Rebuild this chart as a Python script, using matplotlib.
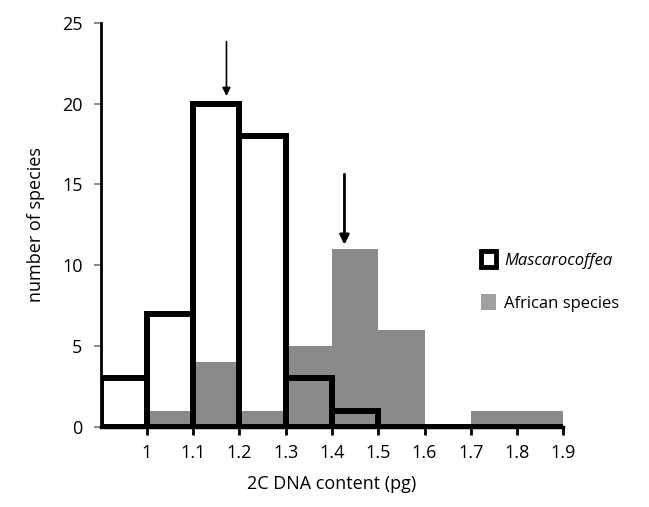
import matplotlib.pyplot as plt
from matplotlib.patches import Patch

# bins of 0.1 pg, left edges
bin_left = [0.9, 1.0, 1.1, 1.2, 1.3, 1.4, 1.5, 1.6, 1.7, 1.8]
mascarocoffea = [3, 7, 20, 18, 3, 1, 0, 0, 0, 0]
african = [0, 1, 4, 1, 5, 11, 6, 0, 1, 1]
xticks = [1, 1.1, 1.2, 1.3, 1.4, 1.5, 1.6, 1.7, 1.8, 1.9]
yticks = [0, 5, 10, 15, 20, 25]

plt.rcParams['font.family'] = ['Open Sans', 'DejaVu Sans']

fig = plt.figure(figsize=(6.49, 5.07), dpi=100)
ax = fig.add_axes([0.155, 0.158, 0.713, 0.797])

w = 0.1
gray = '#8a8a8a'
# white fill, then gray, then black outlines on top
ax.bar(bin_left, mascarocoffea, width=w, align='edge', color='white', zorder=1)
ax.bar(bin_left, african, width=w, align='edge', color=gray, zorder=2)
ax.bar(bin_left, mascarocoffea, width=w, align='edge', fill=False,
       edgecolor='black', linewidth=4.3, zorder=3)

# arrows marking the modes
ax.annotate('', xy=(1.172, 20.3), xytext=(1.172, 24.0),
            arrowprops=dict(arrowstyle='-|>', color='black', lw=1.2, mutation_scale=12))
ax.annotate('', xy=(1.427, 11.1), xytext=(1.427, 15.8),
            arrowprops=dict(arrowstyle='-|>', color='black', lw=2.0, mutation_scale=14))

ax.set_xlim(0.9, 1.9)
ax.set_ylim(0, 25)
ax.set_xticks(xticks)
ax.set_xticklabels([f'{t:g}' for t in xticks])
ax.set_yticks(yticks)

for s in ['top', 'right']:
    ax.spines[s].set_visible(False)
ax.spines['left'].set_linewidth(2)
ax.spines['bottom'].set_linewidth(2.5)
ax.tick_params(axis='x', direction='out', length=6, width=2, labelsize=13, pad=6)
ax.tick_params(axis='y', direction='out', length=5, width=1.2, color='#777777', labelsize=13, pad=8)

ax.set_xlabel('2C DNA content (pg)', fontsize=13, labelpad=10)
ax.set_ylabel('number of species', fontsize=13, labelpad=12)

handles = [Patch(facecolor='white', edgecolor='black', linewidth=3.5),
           Patch(facecolor='#a0a0a0', edgecolor='none')]
leg = ax.legend(handles, ['Mascarocoffea', 'African species'], loc='center left',
                bbox_to_anchor=(0.79, 0.36), frameon=False, fontsize=12,
                handlelength=0.9, handleheight=1.1, labelspacing=1.5, handletextpad=0.5)
leg.get_texts()[0].set_style('italic')

fig.savefig('out.png', dpi=100)
